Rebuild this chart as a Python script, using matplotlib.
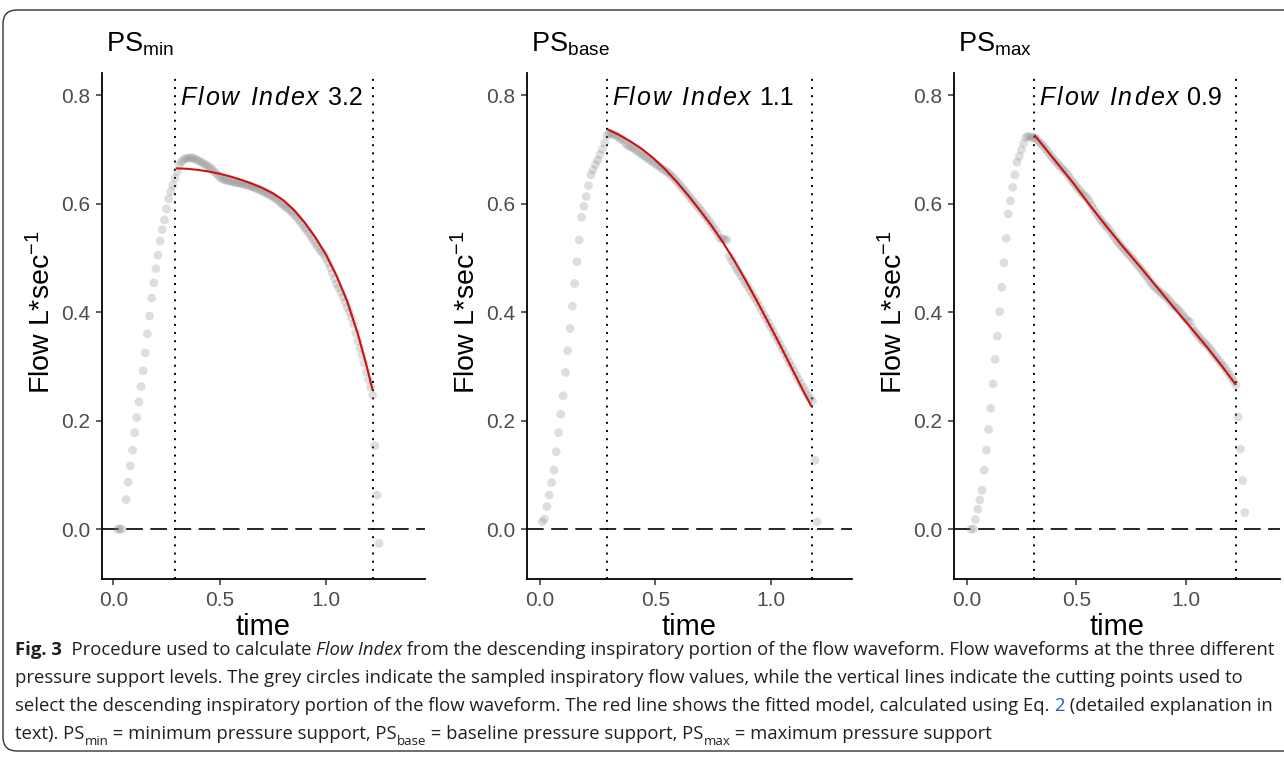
import matplotlib
matplotlib.use("Agg")
import matplotlib.pyplot as plt
from matplotlib import font_manager
from matplotlib.font_manager import FontProperties
from matplotlib.patches import FancyBboxPatch
from matplotlib.transforms import IdentityTransform

# ---------------- data ----------------
time_min = [0.02, 0.03, 0.04,
            0.06, 0.07, 0.08, 0.09, 0.10,
            0.11, 0.12, 0.13, 0.14, 0.15, 0.16, 0.17, 0.18, 0.19, 0.20,
            0.21, 0.22, 0.23, 0.24, 0.25, 0.26, 0.27, 0.28, 0.29, 0.30,
            0.31, 0.32, 0.33, 0.34, 0.35, 0.36, 0.37, 0.38, 0.39, 0.40,
            0.41, 0.42, 0.43, 0.44, 0.45, 0.46, 0.47, 0.48, 0.49, 0.50,
            0.51, 0.52, 0.53, 0.54, 0.55, 0.56, 0.57, 0.58, 0.59, 0.60,
            0.61, 0.62, 0.63, 0.64, 0.65, 0.66, 0.67, 0.68, 0.69, 0.70,
            0.71, 0.72, 0.73, 0.74, 0.75, 0.76, 0.77, 0.78, 0.79, 0.80,
            0.81, 0.82, 0.83, 0.84, 0.85, 0.86, 0.87, 0.88, 0.89, 0.90,
            0.91, 0.92, 0.93, 0.94, 0.95, 0.96, 0.97, 0.98, 0.99, 1.00,
            1.01, 1.02, 1.03, 1.04, 1.05, 1.06, 1.07, 1.08, 1.09, 1.10,
            1.11, 1.12, 1.13, 1.14, 1.15, 1.16, 1.17, 1.18, 1.19, 1.20,
            1.21, 1.22, 1.23, 1.24, 1.25]
flow_min = [0.000, 0.001, 0.000,
            0.055, 0.087, 0.117, 0.146, 0.178,
            0.206, 0.235, 0.263, 0.292, 0.325, 0.360, 0.393, 0.426, 0.454, 0.480,
            0.505, 0.531, 0.552, 0.570, 0.590, 0.609, 0.622, 0.634, 0.647, 0.659,
            0.671, 0.677, 0.681, 0.683, 0.684, 0.684, 0.684, 0.683, 0.681, 0.679,
            0.677, 0.675, 0.672, 0.670, 0.668, 0.665, 0.661, 0.657, 0.653, 0.649,
            0.646, 0.644, 0.643, 0.642, 0.641, 0.640, 0.639, 0.638, 0.638, 0.637,
            0.636, 0.635, 0.634, 0.633, 0.631, 0.630, 0.628, 0.627, 0.625, 0.623,
            0.621, 0.619, 0.617, 0.615, 0.613, 0.610, 0.607, 0.604, 0.600, 0.597,
            0.594, 0.591, 0.588, 0.584, 0.580, 0.576, 0.571, 0.566, 0.561, 0.555,
            0.551, 0.545, 0.539, 0.533, 0.527, 0.521, 0.515, 0.511, 0.506, 0.499,
            0.491, 0.482, 0.472, 0.462, 0.452, 0.445, 0.437, 0.428, 0.419, 0.409,
            0.400, 0.390, 0.378, 0.362, 0.347, 0.334, 0.321, 0.306, 0.290, 0.276,
            0.262, 0.247, 0.154, 0.063, -0.026]
fit_time_min = [0.295, 0.35, 0.40, 0.45, 0.50, 0.55, 0.60, 0.65, 0.70, 0.75, 0.80,
                0.85, 0.90, 0.95, 1.00, 1.05, 1.10, 1.15, 1.19, 1.2195]
fit_flow_min = [0.665, 0.664, 0.662, 0.659, 0.655, 0.650, 0.644, 0.637, 0.629, 0.619, 0.606,
                0.588, 0.565, 0.538, 0.506, 0.467, 0.420, 0.360, 0.303, 0.2566]
cuts_min = [0.290, 1.2195]

time_base = [0.01, 0.02, 0.03, 0.04, 0.05, 0.06, 0.07, 0.08, 0.09, 0.10,
             0.11, 0.12, 0.13, 0.14, 0.15, 0.16, 0.17, 0.18, 0.19, 0.20,
             0.21, 0.22, 0.23, 0.24, 0.25, 0.26, 0.27, 0.28, 0.29, 0.30,
             0.31, 0.32, 0.33, 0.34, 0.35, 0.36, 0.37, 0.38, 0.39, 0.40,
             0.41, 0.42, 0.43, 0.44, 0.45, 0.46, 0.47, 0.48, 0.49, 0.50,
             0.51, 0.52, 0.53, 0.54, 0.55, 0.56, 0.57, 0.58, 0.59, 0.60,
             0.61, 0.62, 0.63, 0.64, 0.65, 0.66, 0.67, 0.68, 0.69, 0.70,
             0.71, 0.72, 0.73, 0.74, 0.75, 0.76, 0.77, 0.78, 0.79, 0.80,
             0.81, 0.82, 0.83, 0.84, 0.85, 0.86, 0.87, 0.88, 0.89, 0.90,
             0.91, 0.92, 0.93, 0.94, 0.95, 0.96, 0.97, 0.98, 0.99, 1.00,
             1.01, 1.02, 1.03, 1.04, 1.05, 1.06, 1.07, 1.08, 1.09, 1.10,
             1.11, 1.12, 1.13, 1.14, 1.15, 1.16, 1.17, 1.18, 1.19, 1.20]
flow_base = [0.014, 0.019, 0.042, 0.063, 0.086, 0.109, 0.143, 0.178, 0.212, 0.246,
             0.289, 0.329, 0.370, 0.411, 0.453, 0.493, 0.533, 0.575, 0.595, 0.613,
             0.633, 0.653, 0.662, 0.672, 0.680, 0.690, 0.700, 0.712, 0.726, 0.729,
             0.728, 0.727, 0.725, 0.722, 0.719, 0.717, 0.711, 0.707, 0.705, 0.703,
             0.700, 0.697, 0.694, 0.691, 0.688, 0.685, 0.682, 0.679, 0.676, 0.673,
             0.670, 0.667, 0.664, 0.661, 0.658, 0.655, 0.651, 0.647, 0.642, 0.637,
             0.632, 0.627, 0.622, 0.617, 0.611, 0.606, 0.601, 0.596, 0.591, 0.586,
             0.580, 0.575, 0.569, 0.563, 0.557, 0.551, 0.544, 0.536, 0.535, 0.534,
             0.533, 0.503, 0.495, 0.488, 0.480, 0.474, 0.467, 0.460, 0.453, 0.447,
             0.440, 0.433, 0.426, 0.419, 0.411, 0.403, 0.395, 0.388, 0.380, 0.372,
             0.364, 0.356, 0.348, 0.340, 0.332, 0.324, 0.316, 0.308, 0.300, 0.292,
             0.284, 0.276, 0.268, 0.261, 0.254, 0.247, 0.241, 0.236, 0.127, 0.014]
fit_time_base = [0.2915, 0.34, 0.39, 0.44, 0.49, 0.54, 0.59, 0.64, 0.69, 0.74,
                 0.79, 0.84, 0.89, 0.94, 0.99, 1.04, 1.09, 1.14, 1.176]
fit_flow_base = [0.737, 0.727, 0.715, 0.701, 0.684, 0.664, 0.641, 0.616, 0.589, 0.561,
                 0.530, 0.496, 0.459, 0.420, 0.380, 0.339, 0.297, 0.255, 0.226]
cuts_base = [0.289, 1.1775]

time_max = [0.02, 0.03,
            0.04, 0.05, 0.06, 0.07, 0.08, 0.09, 0.10,
            0.11, 0.12, 0.13, 0.14, 0.15, 0.16, 0.17, 0.18, 0.19, 0.20,
            0.21, 0.22, 0.23, 0.24, 0.25, 0.26, 0.27, 0.28, 0.29, 0.30,
            0.31, 0.32, 0.33, 0.34, 0.35, 0.36, 0.37, 0.38, 0.39, 0.40,
            0.41, 0.42, 0.43, 0.44, 0.45, 0.46, 0.47, 0.48, 0.49, 0.50,
            0.51, 0.52, 0.53, 0.54, 0.55, 0.56, 0.57, 0.58, 0.59, 0.60,
            0.61, 0.62, 0.63, 0.64, 0.65, 0.66, 0.67, 0.68, 0.69, 0.70,
            0.71, 0.72, 0.73, 0.74, 0.75, 0.76, 0.77, 0.78, 0.79, 0.80,
            0.81, 0.82, 0.83, 0.84, 0.85, 0.86, 0.87, 0.88, 0.89, 0.90,
            0.91, 0.92, 0.93, 0.94, 0.95, 0.96, 0.97, 0.98, 0.99, 1.00,
            1.01, 1.02, 1.03, 1.04, 1.05, 1.06, 1.07, 1.08, 1.09, 1.10,
            1.11, 1.12, 1.13, 1.14, 1.15, 1.16, 1.17, 1.18, 1.19, 1.20,
            1.21, 1.22, 1.23, 1.24, 1.25, 1.26, 1.27]
flow_max = [0.000, 0.001,
            0.018, 0.037, 0.054, 0.072, 0.109, 0.146, 0.184,
            0.223, 0.268, 0.313, 0.356, 0.401, 0.446, 0.491, 0.536, 0.581, 0.605,
            0.630, 0.653, 0.676, 0.687, 0.699, 0.711, 0.722, 0.724, 0.723, 0.721,
            0.722, 0.718, 0.714, 0.710, 0.706, 0.701, 0.696, 0.690, 0.685, 0.680,
            0.676, 0.671, 0.667, 0.663, 0.659, 0.654, 0.648, 0.642, 0.637, 0.632,
            0.627, 0.622, 0.618, 0.614, 0.610, 0.604, 0.597, 0.590, 0.583, 0.577,
            0.571, 0.566, 0.561, 0.557, 0.552, 0.546, 0.540, 0.534, 0.529, 0.524,
            0.519, 0.515, 0.510, 0.506, 0.501, 0.497, 0.492, 0.487, 0.482, 0.477,
            0.472, 0.467, 0.461, 0.455, 0.450, 0.446, 0.442, 0.438, 0.435, 0.431,
            0.428, 0.424, 0.419, 0.414, 0.410, 0.407, 0.403, 0.398, 0.393, 0.388,
            0.384, 0.382, 0.372, 0.365, 0.360, 0.355, 0.350, 0.346, 0.342, 0.338,
            0.333, 0.328, 0.322, 0.317, 0.312, 0.307, 0.302, 0.297, 0.291, 0.285,
            0.279, 0.273, 0.266, 0.207, 0.148, 0.090, 0.031]
fit_time_max = [0.309, 0.400, 0.487, 0.560, 0.639, 0.715, 0.791, 0.867, 0.943, 1.020, 1.096, 1.165, 1.2297]
fit_flow_max = [0.7266, 0.681, 0.6376, 0.598, 0.5576, 0.520, 0.484, 0.447, 0.410, 0.373, 0.3364, 0.301, 0.266]
cuts_max = [0.309, 1.2297]

panel_subscripts = ["min", "base", "max"]
flow_index_values = ["3.2", "1.1", "0.9"]
x_ticks = [0.0, 0.5, 1.0]
x_tick_labels = ["0.0", "0.5", "1.0"]
y_ticks = [0.0, 0.2, 0.4, 0.6, 0.8]
y_tick_labels = ["0.0", "0.2", "0.4", "0.6", "0.8"]

# ---------------- fonts ----------------
names = {f.name for f in font_manager.fontManager.ttflist}
MAIN = "Liberation Sans" if "Liberation Sans" in names else "DejaVu Sans"
CAP = next((f for f in ["Liberation Sans Narrow", "Open Sans"] if f in names), MAIN)

plt.rcParams["font.family"] = [MAIN, "DejaVu Sans"]
plt.rcParams["mathtext.fontset"] = "custom"
plt.rcParams["mathtext.rm"] = MAIN
plt.rcParams["mathtext.it"] = MAIN + ":italic"
plt.rcParams["mathtext.bf"] = MAIN + ":bold"

W, H = 1284, 757
fig = plt.figure(figsize=(W / 100, H / 100), dpi=100)
renderer = fig.canvas.get_renderer()


def text_w(s, fp):
    t = fig.text(0, 0, s + "|", fontproperties=fp)
    w1 = t.get_window_extent(renderer).width
    t.set_text("|")
    w2 = t.get_window_extent(renderer).width
    t.remove()
    return w1 - w2


panels = [
    dict(t=time_min, f=flow_min, ft=fit_time_min, ff=fit_flow_min, cuts=cuts_min,
         box=(101.7, 425.0), xlim=(-0.055, 1.466), ylab_x=42, title_x=106),
    dict(t=time_base, f=flow_base, ft=fit_time_base, ff=fit_flow_base, cuts=cuts_base,
         box=(526.7, 852.0), xlim=(-0.0576, 1.351), ylab_x=467, title_x=531),
    dict(t=time_max, f=flow_max, ft=fit_time_max, ff=fit_flow_max, cuts=cuts_max,
         box=(954.3, 1280.0), xlim=(-0.0566, 1.4306), ylab_x=894, title_x=958),
]
TOP, BOT = 73.3, 579.3
YLIM = (-0.092, 0.840)

for i, p in enumerate(panels):
    l, r = p["box"]
    ax = fig.add_axes([l / W, 1 - BOT / H, (r - l) / W, (BOT - TOP) / H])
    ax.set_xlim(*p["xlim"])
    ax.set_ylim(*YLIM)
    for s in ["top", "right"]:
        ax.spines[s].set_visible(False)
    for s in ["left", "bottom"]:
        ax.spines[s].set_linewidth(1.3)
        ax.spines[s].set_color("black")
    ax.set_xticks(x_ticks)
    ax.set_xticklabels(x_tick_labels)
    ax.set_yticks(y_ticks)
    ax.set_yticklabels(y_tick_labels)
    ax.tick_params(length=4, width=1.1, color="#333333", labelcolor="#4d4d4d",
                   labelsize=15, pad=4.5)

    ax.axhline(0, color="black", lw=1.2, dashes=(10, 4.5), zorder=1)
    for c in p["cuts"]:
        ax.axvline(c, color="black", lw=1.4, dashes=(1, 3.2), zorder=1)
    ax.scatter(p["t"], p["f"], s=40, c="#7f7f7f", alpha=0.25, edgecolors="none", zorder=2)
    ax.plot(p["ft"], p["ff"], color="#cc1111", lw=1.5, zorder=4,
            solid_capstyle="butt", solid_joinstyle="round")

    ax.set_xlabel("time", fontsize=21, color="black")
    ax.xaxis.set_label_coords(0.5, (BOT - 627) / (BOT - TOP))
    ax.xaxis.label.set_va("center")
    ax.set_ylabel(r"Flow L*sec$^{-1}$", fontsize=20.5, color="black")
    ax.yaxis.set_label_coords((p["ylab_x"] - l) / (r - l), (BOT - 312) / (BOT - TOP))
    ax.yaxis.label.set_va("center")

    fig.text(p["title_x"] / W, 1 - 52 / H, r"PS$_{\mathrm{%s}}$" % panel_subscripts[i],
             fontsize=19.5, va="baseline", ha="left")

    # Flow Index label (italic, slightly tracked) + value
    px, py = ax.transData.transform((p["cuts"][0], 0.782))
    fp_it = FontProperties(family=MAIN, style="italic", size=18)
    fp_n = FontProperties(family=MAIN, size=18)
    x = px + 5
    for ch in "Flow Index":
        if ch != " ":
            fig.text(x / W, py / H, ch, fontproperties=fp_it, va="baseline", ha="left")
        x += text_w(ch, fp_it) + 2.0
    x += text_w(" ", fp_n)
    fig.text(x / W, py / H, flow_index_values[i], fontproperties=fp_n, va="baseline", ha="left")

# ---------------- caption ----------------
def cap_runs(size):
    n = FontProperties(family=CAP, size=size)
    b = FontProperties(family=CAP, size=size, weight="bold")
    it = FontProperties(family=CAP, size=size, style="italic")
    sub = FontProperties(family=CAP, size=size * 0.72)
    k = "#231f20"
    blue = "#1f5fbf"
    ds = size * 0.42
    return [
        [("Fig. 3", b, k, 0), ("  Procedure used to calculate ", n, k, 0), ("Flow Index", it, k, 0),
         (" from the descending inspiratory portion of the flow waveform. Flow waveforms at the three different", n, k, 0)],
        [("pressure support levels. The grey circles indicate the sampled inspiratory flow values, while the vertical lines indicate the cutting points used to", n, k, 0)],
        [("select the descending inspiratory portion of the flow waveform. The red line shows the fitted model, calculated using Eq. ", n, k, 0),
         ("2", n, blue, 0), (" (detailed explanation in", n, k, 0)],
        [("text). PS", n, k, 0), ("min", sub, k, ds), (" = minimum pressure support, PS", n, k, 0), ("base", sub, k, ds),
         (" = baseline pressure support, PS", n, k, 0), ("max", sub, k, ds), (" = maximum pressure support", n, k, 0)],
    ]

base_size = 12.0
w1 = sum(text_w(s, fp) for s, fp, _, _ in cap_runs(base_size)[0])
cap_size = min(base_size * (1268 - 15) / w1, 16.0)
baselines = [655, 683, 711, 739]
for yb, runs in zip(baselines, cap_runs(cap_size)):
    x = 15
    for s, fp, col, dy in runs:
        fig.text(x / W, 1 - (yb + dy) / H, s, fontproperties=fp, color=col, va="baseline", ha="left")
        x += text_w(s, fp)

# ---------------- border ----------------
border = FancyBboxPatch((3, 6), 1400, 741, boxstyle="round,pad=0,rounding_size=14",
                        transform=IdentityTransform(), fill=False, ec="#333333", lw=1.0)
fig.add_artist(border)

fig.savefig("out.png", dpi=100)
